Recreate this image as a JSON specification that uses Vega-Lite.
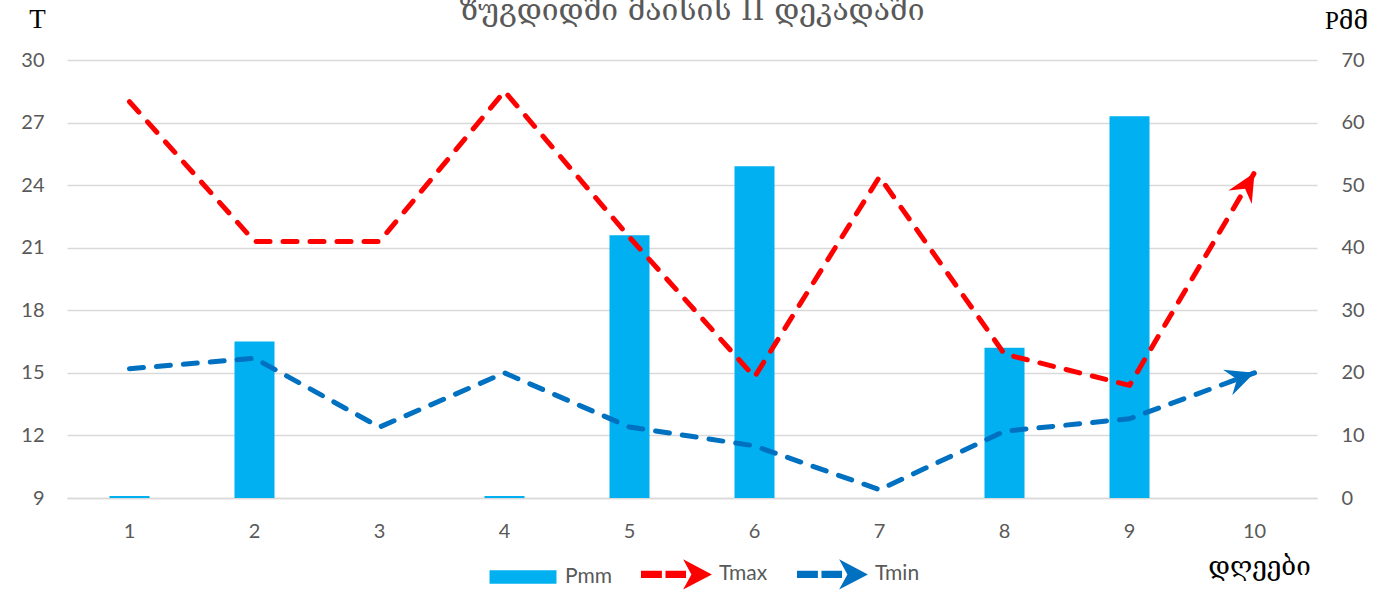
{
  "$schema": "https://vega.github.io/schema/vega-lite/v6.json",
  "width": 1250,
  "height": 438,
  "autosize": "none",
  "padding": {"left": 67, "top": 60, "right": 71, "bottom": 117},
  "background": "white",
  "config": {
    "view": {"stroke": null},
    "axis": {
      "labelFont": "Lato",
      "labelFontSize": 20,
      "labelColor": "#595959",
      "ticks": false,
      "gridColor": "#d9d9d9",
      "gridWidth": 1.5,
      "titleFontWeight": "normal",
      "titleColor": "#000000"
    }
  },
  "title": {
    "text": "ზუგდიდში მაისის II დეკადაში",
    "font": "DejaVu Serif",
    "fontSize": 30,
    "fontWeight": "normal",
    "color": "#595959",
    "anchor": "middle",
    "baseline": "alphabetic",
    "offset": -10,
    "dy": 35
  },
  "data": {
    "values": [
      {"day": 1, "series": "Pmm", "value": 0.3},
      {"day": 2, "series": "Pmm", "value": 25},
      {"day": 3, "series": "Pmm", "value": 0},
      {"day": 4, "series": "Pmm", "value": 0.3},
      {"day": 5, "series": "Pmm", "value": 42},
      {"day": 6, "series": "Pmm", "value": 53},
      {"day": 7, "series": "Pmm", "value": 0},
      {"day": 8, "series": "Pmm", "value": 24},
      {"day": 9, "series": "Pmm", "value": 61},
      {"day": 10, "series": "Pmm", "value": 0},
      {"day": 1, "series": "Tmax", "value": 28.0},
      {"day": 2, "series": "Tmax", "value": 21.3},
      {"day": 3, "series": "Tmax", "value": 21.3},
      {"day": 4, "series": "Tmax", "value": 28.5},
      {"day": 5, "series": "Tmax", "value": 21.5},
      {"day": 6, "series": "Tmax", "value": 14.8},
      {"day": 7, "series": "Tmax", "value": 24.4},
      {"day": 8, "series": "Tmax", "value": 15.9},
      {"day": 9, "series": "Tmax", "value": 14.4},
      {"day": 10, "series": "Tmax", "value": 24.6},
      {"day": 1, "series": "Tmin", "value": 15.2},
      {"day": 2, "series": "Tmin", "value": 15.7},
      {"day": 3, "series": "Tmin", "value": 12.4},
      {"day": 4, "series": "Tmin", "value": 15.0},
      {"day": 5, "series": "Tmin", "value": 12.4},
      {"day": 6, "series": "Tmin", "value": 11.5},
      {"day": 7, "series": "Tmin", "value": 9.4},
      {"day": 8, "series": "Tmin", "value": 12.2},
      {"day": 9, "series": "Tmin", "value": 12.8},
      {"day": 10, "series": "Tmin", "value": 15.0}
    ]
  },
  "encoding": {
    "x": {
      "field": "day",
      "type": "ordinal",
      "scale": {"paddingInner": 0.68, "paddingOuter": 0.34},
      "axis": {
        "labelAngle": 0,
        "labelPadding": 23,
        "domain": true,
        "domainColor": "#d9d9d9",
        "domainWidth": 1.5,
        "title": "დღეები",
        "titleFont": "DejaVu Serif",
        "titleFontSize": 26,
        "titleX": 1192,
        "titleY": 76,
        "titleAlign": "center",
        "titleBaseline": "alphabetic"
      }
    },
    "color": {
      "field": "series",
      "type": "nominal",
      "scale": {"domain": ["Pmm", "Tmax", "Tmin"], "range": ["#00B0F0", "#FF0000", "#0070C0"]},
      "legend": {
        "title": null,
        "orient": "none",
        "legendX": 420,
        "legendY": 478,
        "direction": "horizontal",
        "columns": 3,
        "padding": 0,
        "labelFont": "Lato",
        "labelFontSize": 21,
        "labelColor": "#595959",
        "labelOffset": 6,
        "columnPadding": 29,
        "symbolSize": 5184,
        "symbolStrokeWidth": 0,
        "encode": {
          "symbols": {
            "update": {
              "shape": {"signal": "datum.value === 'Pmm' ? 'M-0.93,-0.19H0.93V0.19H-0.93Z' : 'M-1,-0.1H-0.42V0.1H-1Z M-0.32,-0.1H0.25V0.1H-0.32Z M0.97,0L0.17,-0.42L0.4,0L0.17,0.42Z'"},
              "fill": {"signal": "datum.value === 'Pmm' ? '#00B0F0' : datum.value === 'Tmax' ? '#FF0000' : '#0070C0'"},
              "strokeWidth": {"value": 0},
              "opacity": {"value": 1},
              "fillOpacity": {"value": 1}
            }
          }
        }
      }
    }
  },
  "layer": [
    {
      "transform": [{"filter": "datum.series === 'Pmm'"}],
      "mark": {"type": "bar"},
      "encoding": {
        "y": {
          "field": "value",
          "type": "quantitative",
          "scale": {"domain": [0, 70], "nice": false, "zero": true},
          "axis": {
            "orient": "right",
            "values": [0, 10, 20, 30, 40, 50, 60, 70],
            "grid": false,
            "domain": false,
            "labelPadding": 24,
            "title": "Pმმ",
            "titleFont": "Liberation Serif, DejaVu Serif",
            "titleFontSize": 25,
            "titleAngle": 0,
            "titleX": 29,
            "titleY": -32,
            "titleAlign": "center",
            "titleBaseline": "alphabetic"
          }
        }
      }
    },
    {
      "encoding": {
        "y": {
          "field": "value",
          "type": "quantitative",
          "scale": {"domain": [9, 30], "nice": false, "zero": false},
          "axis": {
            "orient": "left",
            "values": [9, 12, 15, 18, 21, 24, 27, 30],
            "grid": true,
            "domain": false,
            "labelPadding": 23,
            "title": "T",
            "titleFont": "Liberation Serif",
            "titleFontSize": 27,
            "titleAngle": 0,
            "titleX": -30,
            "titleY": -33,
            "titleAlign": "center",
            "titleBaseline": "alphabetic"
          }
        }
      },
      "layer": [
        {
          "transform": [{"filter": "datum.series !== 'Pmm'"}],
          "mark": {"type": "line", "strokeWidth": 5, "strokeDash": [14, 13], "strokeCap": "round", "strokeJoin": "round"}
        },
        {
          "transform": [{"filter": "datum.series === 'Tmax' && datum.day === 10"}],
          "mark": {"type": "point", "filled": true, "opacity": 1, "size": 3600, "angle": 30.3, "shape": "M0,0L0.45,0.95L0,0.62L-0.45,0.95Z"}
        },
        {
          "transform": [{"filter": "datum.series === 'Tmin' && datum.day === 10"}],
          "mark": {"type": "point", "filled": true, "opacity": 1, "size": 3600, "angle": 70.2, "shape": "M0,0L0.45,0.95L0,0.62L-0.45,0.95Z"}
        }
      ]
    }
  ],
  "resolve": {"scale": {"y": "independent"}}
}
